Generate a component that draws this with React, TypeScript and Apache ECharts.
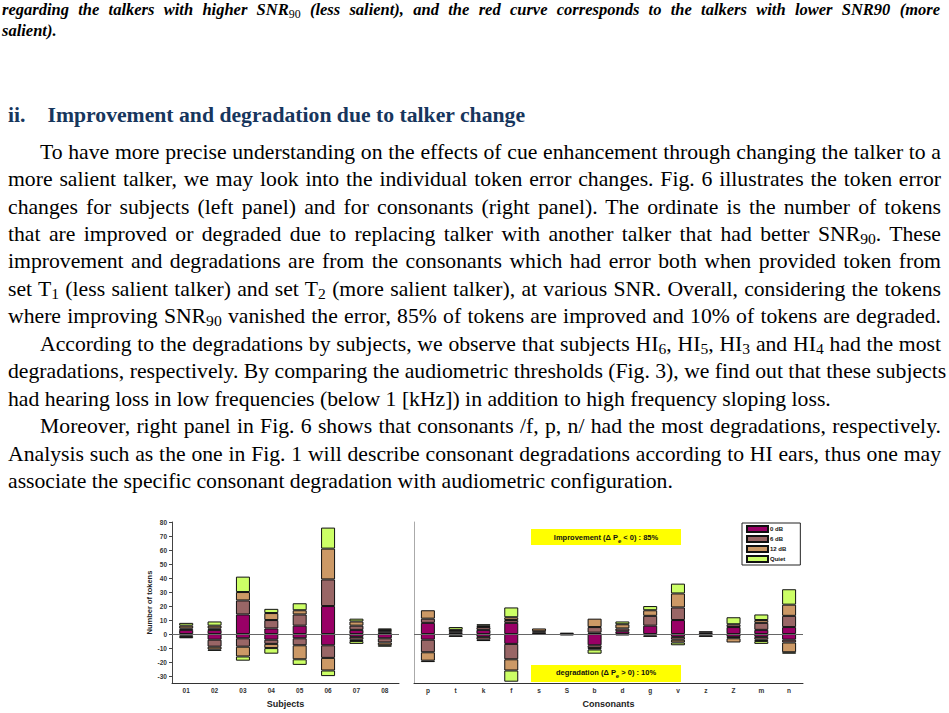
import React, { useEffect, useRef } from 'react';
import * as echarts from 'echarts';

const subjects = ['01', '02', '03', '04', '05', '06', '07', '08'];
const consonants = ['p', 't', 'k', 'f', 's', 'S', 'b', 'd', 'g', 'v', 'z', 'Z', 'm', 'n'];
const snrLevels = ['0 dB', '6 dB', '12 dB', 'Quiet'];
const yTicks = [-30, -20, -10, 0, 10, 20, 30, 40, 50, 60, 70, 80];

// subjects: improved tokens (above zero), one array per SNR level
const subjUp0 = [3, 3, 14, 4, 6, 20, 3, 1];
const subjUp6 = [1, 1, 10, 6, 8, 19, 3, 1];
const subjUp12 = [2, 2, 6, 5, 3, 22, 3, 1];
const subjUpQ = [2, 3, 11, 3, 5, 15, 2, 1];
// subjects: degraded tokens (below zero)
const subjDown0 = [-1, -4, -3, -4, -3, -8, -2, -3];
const subjDown6 = [-1, -5, -6, -3, -5, -9, -2, -3];
const subjDown12 = [0, -2, -7, -3, -10, -9, -1, -2];
const subjDownQ = [-1, -1, -3, -4, -4, -4, -2, -1];

// consonants: improved tokens
const consUp0 = [8, 1, 3, 8, 1, 1, 1, 2, 6, 10, 1, 5, 3, 5];
const consUp6 = [3, 1, 2, 2, 1, 0, 4, 2, 7, 9, 1, 2, 5, 8];
const consUp12 = [6, 1, 1, 2, 2, 0, 6, 3, 4, 10, 0, 0, 2, 8];
const consUpQ = [0, 2, 1, 7, 0, 0, 0, 2, 3, 7, 0, 5, 4, 11];
// consonants: degraded tokens
const consDown0 = [-4, -1, -2, -7, 0, -1, -8, -1, -1, -2, -1, -2, -2, -4];
const consDown6 = [-9, -1, -2, -11, 0, 0, -2, 0, -1, -2, -1, -1, -2, -2];
const consDown12 = [-6, 0, -1, -8, 0, 0, -1, 0, 0, -2, 0, -3, -1, -7];
const consDownQ = [-1, 0, 0, -8, 0, 0, -3, 0, 0, -2, 0, 0, -2, -1];

const levelColors = ['#990066', '#996666', '#cc9966', '#ccff66'];

const serif = '"Liberation Serif", "Times New Roman", serif';
const sans = '"Liberation Sans", Arial, sans-serif';

const buildSeries = (up: number[][], down: number[][], idx: number) =>
  snrLevels.flatMap((name, i) =>
    [up[i], down[i]].map((vals, j) => ({
      type: 'bar',
      name,
      stack: 'tok' + idx,
      xAxisIndex: idx,
      yAxisIndex: idx,
      barWidth: 14,
      data: vals.map((v) => (v === 0 ? '-' : v)),
      itemStyle: { color: levelColors[i], borderColor: '#111', borderWidth: 1 },
      markLine:
        i === 0 && j === 0
          ? {
              silent: true,
              symbol: 'none',
              label: { show: false },
              lineStyle: { color: '#666', width: 1, type: 'solid' },
              data: [{ yAxis: 0 }],
            }
          : undefined,
    }))
  );

const boxText = (text: string, x: number, y: number) => ({
  type: 'text',
  x,
  y,
  style: {
    text,
    align: 'center',
    verticalAlign: 'middle',
    rich: {
      a: { fontSize: 7.5, fontWeight: 'bold', fontFamily: sans, fill: '#111', lineHeight: 13, verticalAlign: 'middle' },
      b: { fontSize: 6, fontWeight: 'bold', fontFamily: sans, fill: '#111', lineHeight: 13, verticalAlign: 'bottom' },
    },
  },
});

const Chart: React.FC = () => {
  const ref = useRef<HTMLDivElement>(null);

  useEffect(() => {
    if (!ref.current) return;
    const chart = echarts.init(ref.current, undefined, { renderer: 'svg' });

    const yAxisBase = {
      type: 'value',
      min: -35,
      max: 80,
      splitLine: { show: false },
    };
    const xAxisBase = {
      type: 'category',
      axisLine: { onZero: false, lineStyle: { color: '#333' } },
      axisTick: { alignWithLabel: true, length: 3, lineStyle: { color: '#333' } },
      axisLabel: { fontSize: 6.5, fontWeight: 'bold', color: '#333', margin: 4 },
      nameLocation: 'middle',
      nameGap: 10,
      nameTextStyle: { fontSize: 9, fontWeight: 'bold', color: '#222' },
    };

    chart.setOption({
      animation: false,
      textStyle: { fontFamily: sans },
      grid: [
        { left: 172, top: 22, width: 227, height: 163 },
        { left: 414, top: 22, width: 389, height: 163 },
      ],
      xAxis: [
        { ...xAxisBase, gridIndex: 0, data: subjects, name: 'Subjects' },
        { ...xAxisBase, gridIndex: 1, data: consonants, name: 'Consonants' },
      ],
      yAxis: [
        {
          ...yAxisBase,
          gridIndex: 0,
          axisLine: { show: true, lineStyle: { color: '#444' } },
          axisTick: { show: true, length: 3, customValues: yTicks, lineStyle: { color: '#444' } },
          axisLabel: { customValues: yTicks, fontSize: 6.5, fontWeight: 'bold', color: '#333', margin: 5 },
          name: 'Number of tokens',
          nameLocation: 'middle',
          nameGap: 18,
          nameTextStyle: { fontSize: 7.5, fontWeight: 'bold', color: '#222' },
        },
        {
          ...yAxisBase,
          gridIndex: 1,
          axisLine: { show: true, lineStyle: { color: '#aaa' } },
          axisTick: { show: false },
          axisLabel: { show: false },
        },
      ],
      legend: {
        left: 742,
        top: 23,
        orient: 'vertical',
        data: snrLevels,
        icon: 'rect',
        itemWidth: 21,
        itemHeight: 6,
        itemGap: 2,
        padding: [2, 14, 2, 4],
        borderColor: '#222',
        borderWidth: 1,
        backgroundColor: '#fff',
        selectedMode: false,
        textStyle: { fontSize: 6, fontWeight: 'bold', color: '#111', padding: [0, 0, 0, -3] },
      },
      graphic: [
        { type: 'rect', shape: { x: 531, y: 29, width: 150, height: 16 }, style: { fill: '#ffff00' } },
        boxText('{a|Improvement (\u0394 P}{b|e}{a| < 0) : 85%}', 606, 37),
        { type: 'rect', shape: { x: 531, y: 165, width: 150, height: 17 }, style: { fill: '#ffff00' } },
        boxText('{a|degradation (\u0394 P}{b|e}{a| > 0) : 10%}', 606, 172),
      ],
      series: [
        ...buildSeries([subjUp0, subjUp6, subjUp12, subjUpQ], [subjDown0, subjDown6, subjDown12, subjDownQ], 0),
        ...buildSeries([consUp0, consUp6, consUp12, consUpQ], [consDown0, consDown6, consDown12, consDownQ], 1),
      ],
    });

    return () => chart.dispose();
  }, []);

  return <div ref={ref} style={{ position: 'absolute', left: 0, top: 500, width: 949, height: 213 }} />;
};

const sub: React.CSSProperties = { fontSize: '0.72em', verticalAlign: '-0.22em', lineHeight: 0 };
const capSub: React.CSSProperties = { ...sub, fontStyle: 'normal', fontWeight: 400 };

const bodyLines: Array<{ indent: boolean; justify: boolean; content: React.ReactNode }> = [
  { indent: true, justify: true, content: 'To have more precise understanding on the effects of cue enhancement through changing the talker to a' },
  { indent: false, justify: true, content: 'more salient talker, we may look into the individual token error changes. Fig. 6 illustrates the token error' },
  { indent: false, justify: true, content: 'changes for subjects (left panel) and for consonants (right panel). The ordinate is the number of tokens' },
  { indent: false, justify: true, content: <>that are improved or degraded due to replacing talker with another talker that had better SNR<span style={sub}>90</span>. These</> },
  { indent: false, justify: true, content: 'improvement and degradations are from the consonants which had error both when provided token from' },
  { indent: false, justify: true, content: <>set T<span style={sub}>1</span> (less salient talker) and set T<span style={sub}>2</span> (more salient talker), at various SNR. Overall, considering the tokens</> },
  { indent: false, justify: true, content: <>where improving SNR<span style={sub}>90</span> vanished the error, 85% of tokens are improved and 10% of tokens are degraded.</> },
  { indent: true, justify: true, content: <>According to the degradations by subjects, we observe that subjects HI<span style={sub}>6</span>, HI<span style={sub}>5</span>, HI<span style={sub}>3</span> and HI<span style={sub}>4</span> had the most</> },
  { indent: false, justify: true, content: 'degradations, respectively. By comparing the audiometric thresholds (Fig. 3), we find out that these subjects' },
  { indent: false, justify: false, content: 'had hearing loss in low frequencies (below 1 [kHz]) in addition to high frequency sloping loss.' },
  { indent: true, justify: true, content: 'Moreover, right panel in Fig. 6 shows that consonants /f, p, n/ had the most degradations, respectively.' },
  { indent: false, justify: true, content: 'Analysis such as the one in Fig. 1 will describe consonant degradations according to HI ears, thus one may' },
  { indent: false, justify: false, content: 'associate the specific consonant degradation with audiometric configuration.' },
];

const lineStyle = (top: number, left: number, width: number, justify: boolean, fontSize: number, lh: number): React.CSSProperties => ({
  position: 'absolute',
  top,
  left,
  width,
  height: lh,
  lineHeight: lh + 'px',
  fontSize,
  whiteSpace: 'nowrap',
  textAlign: justify ? 'justify' : 'left',
  textAlignLast: justify ? 'justify' : 'left',
  color: '#000',
});

export default function App() {
  return (
    <div style={{ position: 'absolute', left: 0, top: 0, width: 949, height: 713, overflow: 'hidden', background: '#fff', fontFamily: serif }}>
      <div style={{ ...lineStyle(-1.5, 2, 938, true, 16.5, 21), fontWeight: 'bold', fontStyle: 'italic' }}>
        regarding the talkers with higher SNR<span style={capSub}>90</span> (less salient), and the red curve corresponds to the talkers with lower SNR90 (more
      </div>
      <div style={{ ...lineStyle(20.2, 2, 938, false, 16.5, 21), fontWeight: 'bold', fontStyle: 'italic' }}>salient).</div>

      <div style={{ ...lineStyle(102, 8, 700, false, 21.7, 27), fontWeight: 'bold', color: '#17365d' }}>
        ii.<span style={{ display: 'inline-block', width: 22 }} />Improvement and degradation due to talker change
      </div>

      {bodyLines.map((l, i) => (
        <div key={i} style={lineStyle(138.6 + i * 27.45, l.indent ? 40 : 8, l.indent ? 901 : 933, l.justify, 21.7, 27)}>
          {l.content}
        </div>
      ))}

      <Chart />
    </div>
  );
}
